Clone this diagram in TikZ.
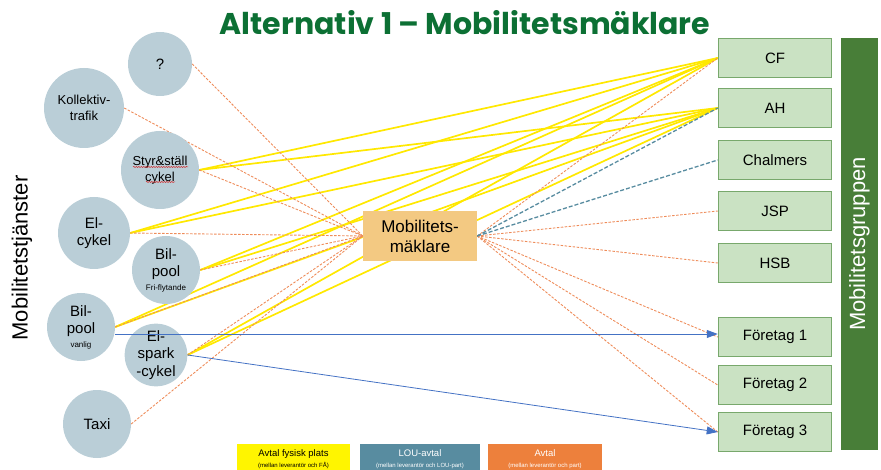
\documentclass[tikz,border=0pt]{standalone}
\usepackage{fontspec}
\setmainfont{Liberation Sans}
\newfontfamily\titlefont{Poppins}
\usetikzlibrary{arrows.meta,calc,decorations.pathmorphing}
\pgfdeclarelayer{background}
\pgfsetlayers{background,main}

\newcommand{\fs}[2]{\fontsize{#1}{#2}\selectfont}

\definecolor{titlegreen}{RGB}{12,112,52}
\definecolor{svcfill}{RGB}{186,206,215}
\definecolor{brokerfill}{RGB}{243,201,130}
\definecolor{partyfill}{RGB}{202,226,195}
\definecolor{partyedge}{RGB}{120,168,108}
\definecolor{groupgreen}{RGB}{72,126,56}
\definecolor{siteyellow}{RGB}{255,232,0}
\definecolor{dealorange}{RGB}{238,140,90}
\definecolor{loublue}{RGB}{88,140,160}
\definecolor{flowblue}{RGB}{68,114,196}
\definecolor{legyellow}{RGB}{255,245,0}
\definecolor{legorange}{RGB}{237,128,60}
\definecolor{spellred}{RGB}{210,40,40}

\tikzset{
  svc/.style={circle, fill=svcfill, inner sep=0pt, align=center, font=\fs{15}{17}},
  party/.style={rectangle, draw=partyedge, line width=1.5pt, fill=partyfill,
    minimum width=113pt, minimum height=39pt, font=\fs{15}{17}},
  site/.style={draw=siteyellow, line width=1.7pt},
  deal/.style={draw=dealorange, line width=0.9pt, dash pattern=on 2.5pt off 1.5pt},
  loudeal/.style={draw=loublue, line width=1.3pt, dash pattern=on 4pt off 2pt},
  flow/.style={draw=flowblue, line width=0.8pt, -{Triangle[length=11pt,width=8pt]}},
  legendbox/.style={rectangle, anchor=north, minimum height=30pt, inner sep=1pt,
    align=center, font=\fs{9.5}{11}},
  spell/.style={draw=spellred, line width=0.5pt, decorate,
    decoration={snake, amplitude=0.6pt, segment length=2.5pt}}
}

\begin{document}
\begin{tikzpicture}[x=1pt,y=-1pt]
\useasboundingbox (0,0) rectangle (881,470);

% title
\node[font=\titlefont\bfseries\fs{30}{34}, text=titlegreen] (title) at (465,23)
  {Alternativ 1 – Mobilitetsmäklare};

% side labels
\node[rotate=90, font=\fs{22}{24}] (svclabel) at (22,258) {Mobilitetstjänster};
\node[rotate=90, fill=groupgreen, minimum width=412pt, minimum height=37pt,
  inner sep=0pt, text=white, font=\fs{22}{24}] (grp) at (859.5,244) {Mobilitetsgruppen};

% mobility services
\node[svc, minimum size=64pt] (q) at (160,64) {?};
\node[svc, minimum size=80pt, font=\fs{13}{16}] (kol) at (84,108) {Kollektiv-\\trafik};
\node[svc, minimum size=78pt, font=\fs{13}{16}] (sty) at (160,170) {Styr\&ställ\\cykel};
\node[svc, minimum size=72pt] (elc) at (94,233) {El-\\cykel};
\node[svc, minimum size=68pt] (bpf) at (166,270) {Bil-\\pool\\[-3pt]{\fs{8}{9}Fri-flytande}};
\node[svc, minimum size=68pt] (bpv) at (81,327) {Bil-\\pool\\[-3pt]{\fs{8}{9}vanlig}};
\node[svc, minimum size=62pt, font=\fs{15}{17.5}] (els) at (156,355) {El-\\spark\\-cykel};
\node[svc, minimum size=68pt] (taxi) at (97,424) {Taxi};

% spell-check marks
\draw[spell] ($(sty)+(-27,-3)$) -- ($(sty)+(28,-3)$);
\draw[spell] ($(sty)+(-14,12)$) -- ($(sty)+(15,12)$);

% broker
\node[rectangle, fill=brokerfill, minimum width=114pt, minimum height=50pt,
  align=center, font=\fs{17}{20}] (broker) at (420,236) {Mobilitets-\\mäklare};

% parties
\node[party] (cf) at (775,58) {CF};
\node[party] (ah) at (775,108) {AH};
\node[party] (chal) at (775,160) {Chalmers};
\node[party] (jsp) at (775,211) {JSP};
\node[party] (hsb) at (775,263) {HSB};
\node[party] (f1) at (775,337) {Företag 1};
\node[party] (f2) at (775,385) {Företag 2};
\node[party] (f3) at (775,432) {Företag 3};

% agreements
\begin{pgfonlayer}{background}
  \foreach \s in {sty,elc,bpf,bpv,els}
    \foreach \t in {cf,ah}
      \draw[site] (\s.east) -- (\t.west);
  \foreach \s in {q,kol,sty,elc,bpf,bpv,els,taxi}
    \draw[deal] (\s.east) -- (broker.west);
  \foreach \t in {cf,jsp,hsb,f1,f2,f3}
    \draw[deal] (broker.east) -- (\t.west);
  \foreach \t in {ah,chal}
    \draw[loudeal] (broker.east) -- (\t.west);
\end{pgfonlayer}

% direct flows
\draw[flow] ([yshift=3pt]bpv.east |- f1.west) -- ([yshift=3pt]f1.west);
\draw[flow] (els.east) -- (f3.west);

% legend
\node[legendbox, fill=legyellow, minimum width=113pt] (lsite) at (293.5,444)
  {Avtal fysisk plats\\{\fs{6}{7}(mellan leverantör och FÅ)}};
\node[legendbox, fill=loublue, text=white, minimum width=120pt] (llou) at (420,444)
  {LOU-avtal\\{\fs{6}{7}(mellan leverantör och LOU-part)}};
\node[legendbox, fill=legorange, text=white, minimum width=114pt] (ldeal) at (545,444)
  {Avtal\\{\fs{6}{7}(mellan leverantör och part)}};
\end{tikzpicture}
\end{document}
